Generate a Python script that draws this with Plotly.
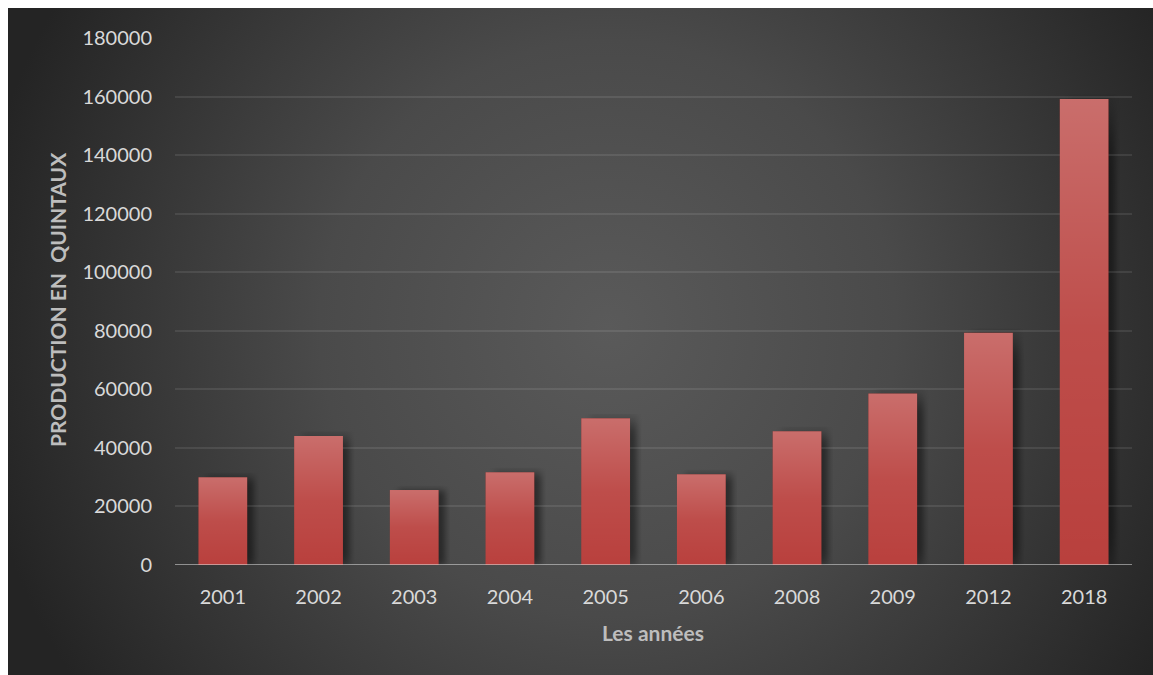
import base64
import plotly.graph_objects as go

# Production per year (quintaux)
years = ["2001", "2002", "2003", "2004", "2005", "2006", "2008", "2009", "2012", "2018"]
production = [30000, 44100, 25600, 31700, 50100, 31000, 45700, 58600, 79300, 159200]
y_ticks = [0, 20000, 40000, 60000, 80000, 100000, 120000, 140000, 160000, 180000]

W, H = 1153, 675
ML, MR, MT, MB = 175, 21, 38, 110
PW, PH = W - ML - MR, H - MT - MB
BAR_W = 0.51


def svg_uri(svg):
    return "data:image/svg+xml;base64," + base64.b64encode(svg.encode()).decode()


def px_to_paper_x(px):
    return (px - ML) / PW


def px_to_paper_y(py):
    return (H - MB - py) / PH


# dark card with a soft radial light in the middle
bg_svg = """<svg xmlns='http://www.w3.org/2000/svg' width='1145' height='667' viewBox='0 0 1145 667' preserveAspectRatio='none'>
<defs><radialGradient id='g' gradientUnits='userSpaceOnUse' cx='600' cy='320' r='640'>
<stop offset='0' stop-color='#5a5a5a'/><stop offset='0.45' stop-color='#4a4a4a'/>
<stop offset='1' stop-color='#242424'/></radialGradient></defs>
<rect width='1145' height='667' fill='url(#g)'/></svg>"""

# vertical sheen applied on top of each bar
sheen_svg = """<svg xmlns='http://www.w3.org/2000/svg' width='10' height='100' viewBox='0 0 10 100' preserveAspectRatio='none'>
<defs><linearGradient id='s' x1='0' y1='0' x2='0' y2='1'>
<stop offset='0' stop-color='#ffffff' stop-opacity='0.24'/>
<stop offset='0.5' stop-color='#ffffff' stop-opacity='0.07'/>
<stop offset='1' stop-color='#ffffff' stop-opacity='0'/></linearGradient></defs>
<rect width='10' height='100' fill='url(#s)'/></svg>"""

# soft drop shadow behind each bar
shadow_svg = """<svg xmlns='http://www.w3.org/2000/svg' width='100' height='100' viewBox='0 0 100 100' preserveAspectRatio='none'>
<defs><filter id='b' x='-50%' y='-50%' width='200%' height='200%'><feGaussianBlur stdDeviation='5'/></filter></defs>
<rect x='14' y='6' width='78' height='94' fill='#000000' fill-opacity='0.45' filter='url(#b)'/></svg>"""

images = [
    dict(source=svg_uri(bg_svg), xref="paper", yref="paper",
         x=px_to_paper_x(8), y=px_to_paper_y(8),
         sizex=px_to_paper_x(W) - px_to_paper_x(8),
         sizey=px_to_paper_y(8) - px_to_paper_y(H),
         xanchor="left", yanchor="top", sizing="stretch", layer="below"),
]
for i, v in enumerate(production):
    images.append(dict(source=svg_uri(shadow_svg), xref="x", yref="y",
                       x=i - BAR_W / 2, y=v + 1500, sizex=BAR_W + 0.12, sizey=v + 1500,
                       xanchor="left", yanchor="top", sizing="stretch", layer="below"))
    images.append(dict(source=svg_uri(sheen_svg), xref="x", yref="y",
                       x=i - BAR_W / 2, y=v, sizex=BAR_W, sizey=v,
                       xanchor="left", yanchor="top", sizing="stretch", layer="above"))

fig = go.Figure(go.Bar(
    x=list(range(len(years))), y=production,
    width=BAR_W, marker=dict(color="#b9403d", line=dict(width=0)),
    hoverinfo="skip",
))

tick_font = dict(family="Lato, 'Open Sans', sans-serif", size=20, color="#d9d9d9")
title_font = dict(family="Lato, 'Open Sans', sans-serif", size=21, color="#bdbdbd")

fig.update_layout(
    width=W, height=H, autosize=False,
    margin=dict(l=ML, r=MR, t=MT, b=MB, pad=0),
    paper_bgcolor="#ffffff", plot_bgcolor="rgba(0,0,0,0)",
    showlegend=False, bargap=1 - BAR_W,
    images=images,
    xaxis=dict(
        tickmode="array", tickvals=list(range(len(years))), ticktext=years,
        range=[-0.5, len(years) - 0.5], showgrid=False, zeroline=False,
        showline=False, ticks="", tickfont=tick_font, ticklabelstandoff=18,
        fixedrange=True,
    ),
    yaxis=dict(
        range=[0, 180000], tickmode="array", tickvals=y_ticks,
        ticktext=[str(t) for t in y_ticks], showgrid=True,
        gridcolor="rgba(255,255,255,0.09)", gridwidth=2, zeroline=False,
        showline=False, ticks="", tickfont=tick_font, ticklabelstandoff=22,
        fixedrange=True,
    ),
    shapes=[dict(type="line", xref="paper", yref="y", x0=0, x1=1, y0=0, y1=0,
                 line=dict(color="rgba(220,220,220,0.55)", width=2), layer="above")],
    annotations=[
        dict(text="<b>PRODUCTION EN \u00a0QUINTAUX</b>", xref="paper", yref="paper",
             x=px_to_paper_x(57), y=px_to_paper_y(300), textangle=-90,
             xanchor="center", yanchor="middle", showarrow=False, font=title_font),
        dict(text="<b>Les années</b>", xref="paper", yref="paper",
             x=px_to_paper_x(653), y=px_to_paper_y(633),
             xanchor="center", yanchor="middle", showarrow=False, font=title_font),
    ],
)

fig.write_html("out.html", config={"displayModeBar": False})
